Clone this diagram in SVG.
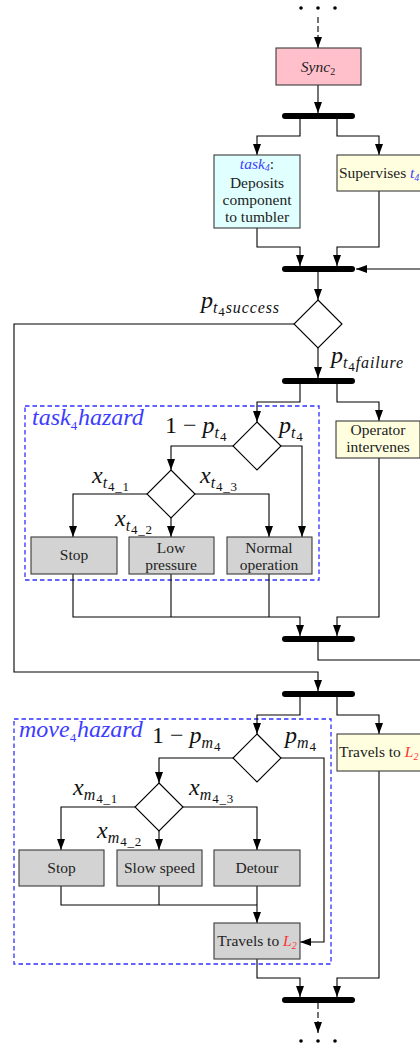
<svg xmlns="http://www.w3.org/2000/svg" width="420" height="1048" viewBox="0 0 420 1048">
  <style>
    .ln { fill: none; stroke: #000; stroke-width: 1.1; }
    .dash { fill: none; stroke: #000; stroke-width: 1.1; stroke-dasharray: 6 3; }
    .box { stroke: #3a3a3a; stroke-width: 1.1; }
    .bar { stroke: #000; stroke-width: 6; stroke-linecap: round; }
    .dia { fill: #fff; stroke: #000; stroke-width: 1.1; }
    .haz { fill: none; stroke: #3030ff; stroke-width: 1.3; stroke-dasharray: 4.5 3; }
    .t { font-family: "Liberation Serif", "Times New Roman", serif; font-size: 15.5px; fill: #222; text-anchor: middle; }
    .ts { font-family: "Liberation Serif", "Times New Roman", serif; font-size: 15.5px; fill: #222; }
    .m { font-family: "Liberation Serif", "Times New Roman", serif; font-style: italic; font-size: 24px; fill: #111; }
    .hz { font-family: "Liberation Serif", "Times New Roman", serif; font-style: italic; font-size: 24px; fill: #3c3cff; }
    .blue { fill: #4040ff; font-style: italic; }
    .red { fill: #ff3030; font-style: italic; }
    .up { font-style: normal; }
    .s1 { font-size: 16px; letter-spacing: 0.9px; }
    .s2 { font-size: 13px; letter-spacing: 0.8px; font-style: normal; }
    .dot { fill: #000; }
  </style>
  <defs>
    <marker id="arr" markerUnits="userSpaceOnUse" markerWidth="11" markerHeight="8" refX="11" refY="4" orient="auto">
      <path d="M0,0 L11,4 L0,8 z" fill="#000"/>
    </marker>
  </defs>

  <!-- hazard regions -->
  <rect class="haz" x="25" y="406" width="294" height="174"/>
  <rect class="haz" x="14" y="719" width="317" height="245"/>
  <text class="hz" x="32" y="425">task<tspan class="s2" dy="5">4</tspan><tspan dy="-5">hazard</tspan></text>
  <text class="hz" x="19" y="737">move<tspan class="s2" dy="5">4</tspan><tspan dy="-5">hazard</tspan></text>

  <!-- connectors -->
  <g id="connectors">
    <path class="dash" d="M318,17 V48" marker-end="url(#arr)"/>
    <path class="ln" d="M318,85 V113" marker-end="url(#arr)"/>
    <path class="ln" d="M300,116 V136 H257 V155" marker-end="url(#arr)"/>
    <path class="ln" d="M337,116 V136 H379 V155" marker-end="url(#arr)"/>
    <path class="ln" d="M257,228 V247 H300 V266" marker-end="url(#arr)"/>
    <path class="ln" d="M379,191 V247 H337 V266" marker-end="url(#arr)"/>
    <path class="ln" d="M318,272 V300" marker-end="url(#arr)"/>
    <path class="ln" d="M294,324 H14 V672 H318 V691" marker-end="url(#arr)"/>
    <path class="ln" d="M318,348 V378" marker-end="url(#arr)"/>
    <path class="ln" d="M300,381 V402 H257 V422" marker-end="url(#arr)"/>
    <path class="ln" d="M337,381 V402 H379 V421" marker-end="url(#arr)"/>
    <path class="ln" d="M233,446 H171 V470" marker-end="url(#arr)"/>
    <path class="ln" d="M281,446 H302 V537" marker-end="url(#arr)"/>
    <path class="ln" d="M147,494 H73 V537" marker-end="url(#arr)"/>
    <path class="ln" d="M171,518 V537" marker-end="url(#arr)"/>
    <path class="ln" d="M195,494 H269 V537" marker-end="url(#arr)"/>
    <path class="ln" d="M73,574 V617 H300 V636" marker-end="url(#arr)"/>
    <path class="ln" d="M171,574 V617"/>
    <path class="ln" d="M269,574 V617"/>
    <path class="ln" d="M379,458 V617 H337 V636" marker-end="url(#arr)"/>
    <path class="ln" d="M318,642 V660 H428 V269 H356" marker-end="url(#arr)"/>
    <path class="ln" d="M300,694 V715 H257 V734" marker-end="url(#arr)"/>
    <path class="ln" d="M337,694 V715 H379 V734" marker-end="url(#arr)"/>
    <path class="ln" d="M233,758 H159 V783" marker-end="url(#arr)"/>
    <path class="ln" d="M281,758 H324 V942 H300" marker-end="url(#arr)"/>
    <path class="ln" d="M135,807 H61 V850" marker-end="url(#arr)"/>
    <path class="ln" d="M159,831 V850" marker-end="url(#arr)"/>
    <path class="ln" d="M183,807 H257 V850" marker-end="url(#arr)"/>
    <path class="ln" d="M61,886 V905 H257"/>
    <path class="ln" d="M159,886 V905"/>
    <path class="ln" d="M257,886 V923" marker-end="url(#arr)"/>
    <path class="ln" d="M257,959 V978 H300 V997" marker-end="url(#arr)"/>
    <path class="ln" d="M379,771 V978 H337 V997" marker-end="url(#arr)"/>
    <path class="dash" d="M318,1003 V1033" marker-end="url(#arr)"/>
  </g>

  <!-- continuation dots -->
  <g id="dots-top">
    <circle class="dot" cx="301" cy="8" r="1.8"/>
    <circle class="dot" cx="318" cy="8" r="1.8"/>
    <circle class="dot" cx="335" cy="8" r="1.8"/>
  </g>
  <g id="dots-bottom">
    <circle class="dot" cx="301" cy="1041" r="1.8"/>
    <circle class="dot" cx="318" cy="1041" r="1.8"/>
    <circle class="dot" cx="335" cy="1041" r="1.8"/>
  </g>

  <!-- nodes -->
  <g id="sync2">
    <rect class="box" x="276" y="48" width="85" height="37" fill="#ffc0cb"/>
    <text class="t" x="318" y="72"><tspan font-style="italic">Sync</tspan><tspan font-size="10" dy="3">2</tspan></text>
  </g>
  <g id="fork1"><line class="bar" x1="285" y1="116" x2="352" y2="116"/></g>
  <g id="task4">
    <rect class="box" x="214" y="155" width="86" height="73" fill="#e0ffff"/>
    <text class="t" x="257" y="169" font-size="15"><tspan class="blue">task</tspan><tspan class="blue" font-size="10" dy="2">4</tspan><tspan dy="-2">:</tspan></text>
    <text class="t" x="257" y="188" font-size="15">Deposits</text>
    <text class="t" x="257" y="205" font-size="15">component</text>
    <text class="t" x="257" y="222" font-size="15">to tumbler</text>
  </g>
  <g id="supervise">
    <rect class="box" x="337" y="155" width="86" height="36" fill="#ffffe0"/>
    <text class="ts" x="339" y="178">Supervises <tspan class="blue">t</tspan><tspan class="blue" font-size="10" dy="3">4</tspan></text>
  </g>
  <g id="join1"><line class="bar" x1="285" y1="269" x2="352" y2="269"/></g>
  <g id="decide-t4">
    <polygon class="dia" points="318,300 342,324 318,348 294,324"/>
    <text class="m" x="201" y="308">p<tspan class="s1" dy="5">t</tspan><tspan class="s2" dy="3">4</tspan><tspan class="s1" dy="-3">success</tspan></text>
    <text class="m" x="331" y="363">p<tspan class="s1" dy="5">t</tspan><tspan class="s2" dy="3">4</tspan><tspan class="s1" dy="-3">failure</tspan></text>
  </g>
  <g id="fork2"><line class="bar" x1="285" y1="381" x2="352" y2="381"/></g>
  <g id="hazard-t4">
    <polygon class="dia" points="257,422 281,446 257,470 233,446"/>
    <text class="m" x="165" y="433"><tspan class="up">1 − </tspan>p<tspan class="s1" dy="5">t</tspan><tspan class="s2" dy="3">4</tspan></text>
    <text class="m" x="279" y="433">p<tspan class="s1" dy="5">t</tspan><tspan class="s2" dy="3">4</tspan></text>
  </g>
  <g id="branch-t4">
    <polygon class="dia" points="171,470 195,494 171,518 147,494"/>
    <text class="m" x="92" y="483">x<tspan class="s1" dy="5">t</tspan><tspan class="s2" dy="3">4_1</tspan></text>
    <text class="m" x="115" y="526">x<tspan class="s1" dy="5">t</tspan><tspan class="s2" dy="3">4_2</tspan></text>
    <text class="m" x="200" y="483">x<tspan class="s1" dy="5">t</tspan><tspan class="s2" dy="3">4_3</tspan></text>
  </g>
  <g id="stop-t4">
    <rect class="box" x="31" y="537" width="86" height="37" fill="#d3d3d3"/>
    <text class="t" x="74" y="560">Stop</text>
  </g>
  <g id="low-pressure">
    <rect class="box" x="129" y="537" width="85" height="37" fill="#d3d3d3"/>
    <text class="t" x="171" y="553">Low</text>
    <text class="t" x="171" y="570">pressure</text>
  </g>
  <g id="normal-op">
    <rect class="box" x="227" y="537" width="85" height="37" fill="#d3d3d3"/>
    <text class="t" x="269" y="553">Normal</text>
    <text class="t" x="269" y="570">operation</text>
  </g>
  <g id="operator">
    <rect class="box" x="336" y="421" width="84" height="37" fill="#ffffe0"/>
    <text class="t" x="378" y="435">Operator</text>
    <text class="t" x="378" y="452">intervenes</text>
  </g>
  <g id="join2"><line class="bar" x1="285" y1="639" x2="352" y2="639"/></g>
  <g id="fork3"><line class="bar" x1="285" y1="694" x2="352" y2="694"/></g>
  <g id="hazard-m4">
    <polygon class="dia" points="257,734 281,758 257,782 233,758"/>
    <text class="m" x="152" y="743"><tspan class="up">1 − </tspan>p<tspan class="s1" dy="5">m</tspan><tspan class="s2" dy="3">4</tspan></text>
    <text class="m" x="285" y="743">p<tspan class="s1" dy="5">m</tspan><tspan class="s2" dy="3">4</tspan></text>
  </g>
  <g id="branch-m4">
    <polygon class="dia" points="159,783 183,807 159,831 135,807"/>
    <text class="m" x="73" y="795">x<tspan class="s1" dy="5">m</tspan><tspan class="s2" dy="3">4_1</tspan></text>
    <text class="m" x="97" y="838">x<tspan class="s1" dy="5">m</tspan><tspan class="s2" dy="3">4_2</tspan></text>
    <text class="m" x="189" y="795">x<tspan class="s1" dy="5">m</tspan><tspan class="s2" dy="3">4_3</tspan></text>
  </g>
  <g id="stop-m4">
    <rect class="box" x="19" y="850" width="85" height="36" fill="#d3d3d3"/>
    <text class="t" x="61.5" y="873">Stop</text>
  </g>
  <g id="slow-speed">
    <rect class="box" x="117" y="850" width="85" height="36" fill="#d3d3d3"/>
    <text class="t" x="159.5" y="873">Slow speed</text>
  </g>
  <g id="detour">
    <rect class="box" x="214" y="850" width="86" height="36" fill="#d3d3d3"/>
    <text class="t" x="257" y="873">Detour</text>
  </g>
  <g id="travels-hazard">
    <rect class="box" x="214" y="923" width="86" height="36" fill="#d3d3d3"/>
    <text class="t" x="257" y="946">Travels to <tspan class="red">L</tspan><tspan class="red" font-size="10" dy="3">2</tspan></text>
  </g>
  <g id="travels">
    <rect class="box" x="337" y="734" width="86" height="37" fill="#ffffe0"/>
    <text class="ts" x="339" y="757">Travels to <tspan class="red">L</tspan><tspan class="red" font-size="10" dy="3">2</tspan></text>
  </g>
  <g id="join3"><line class="bar" x1="285" y1="1000" x2="352" y2="1000"/></g>
</svg>
